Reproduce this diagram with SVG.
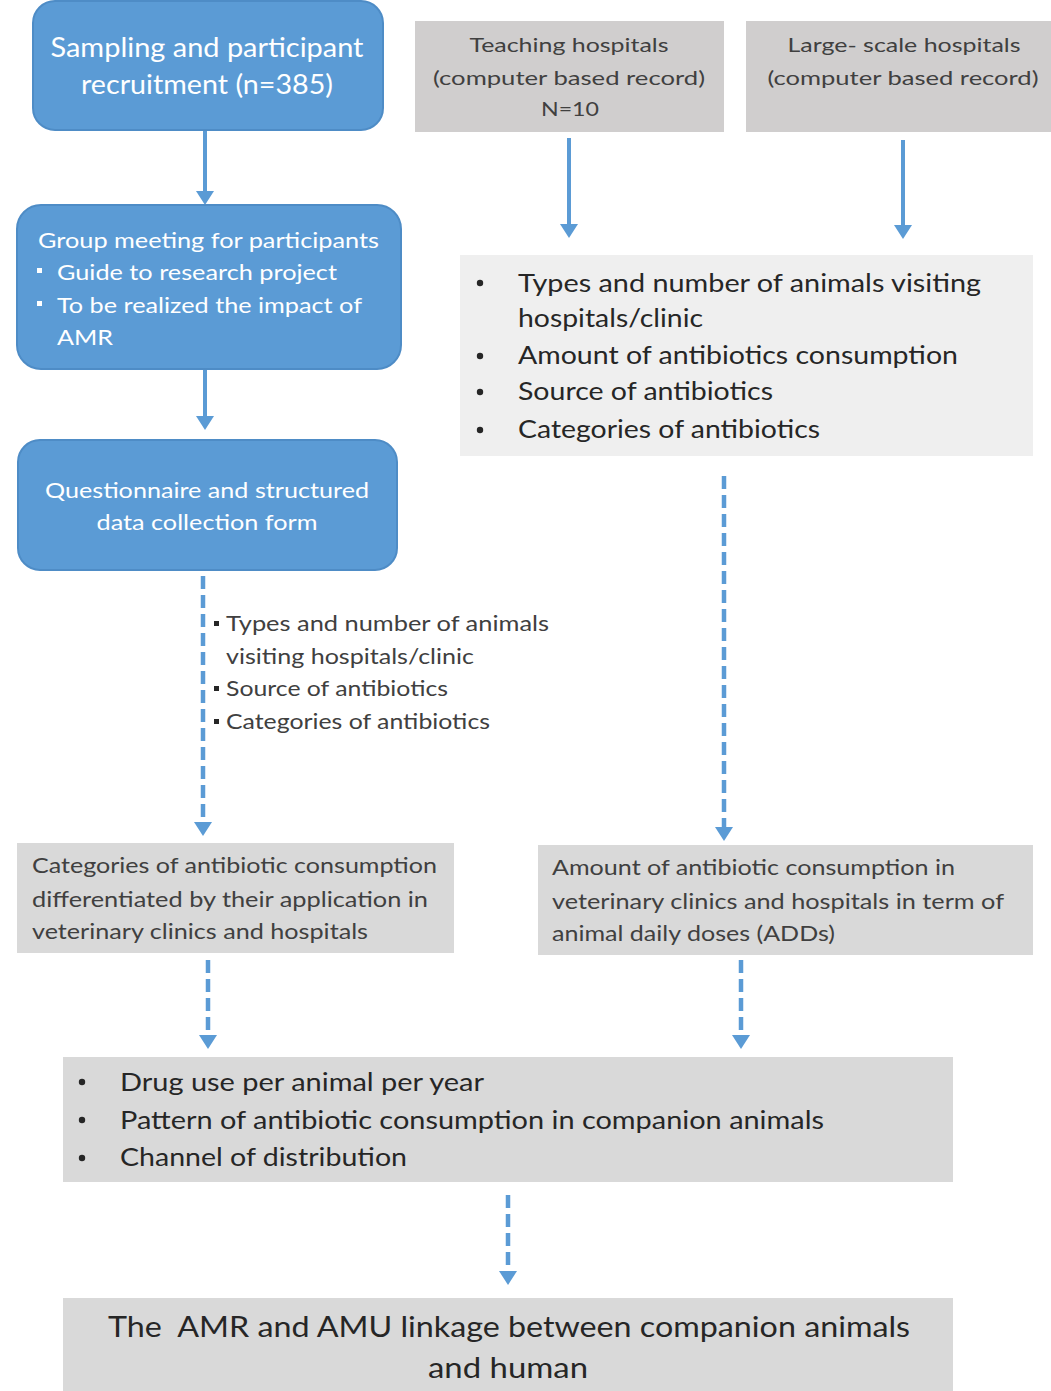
<svg xmlns="http://www.w3.org/2000/svg" width="1051" height="1391" viewBox="0 0 1051 1391">
<defs>
<marker id="ah" viewBox="0 0 14 18" refX="3" refY="9" markerWidth="14" markerHeight="18" markerUnits="userSpaceOnUse" orient="auto">
<path d="M0,0 L14,9 L0,18 z" fill="#5B9BD5"/>
</marker>
<style>
text{font-family:Lato,"Open Sans","Liberation Sans",sans-serif;}
.blue{fill:#5B9BD5;stroke:#4E8CC6;stroke-width:2;}
.g1{fill:#D0CECE;}
.g2{fill:#EFEFEF;}
.g3{fill:#D9D9D9;}
.wt{fill:#FFFFFF;}
.dk{fill:#404040;}
.bk{fill:#262626;}
.solid{stroke:#5B9BD5;stroke-width:4;fill:none;marker-end:url(#ah);}
.dash{stroke:#5B9BD5;stroke-width:4.5;fill:none;stroke-dasharray:13 6;marker-end:url(#ah);}
</style>
</defs>

<g id="connectors">
<line class="solid" x1="205" y1="131" x2="205" y2="194"/>
<line class="solid" x1="205" y1="370" x2="205" y2="419"/>
<line class="solid" x1="569" y1="138" x2="569" y2="227"/>
<line class="solid" x1="903" y1="140" x2="903" y2="228"/>
<line class="dash" x1="203" y1="576" x2="203" y2="825"/>
<line class="dash" x1="724" y1="476" x2="724" y2="830"/>
<line class="dash" x1="208" y1="960" x2="208" y2="1038"/>
<line class="dash" x1="741" y1="960" x2="741" y2="1038"/>
<line class="dash" x1="508" y1="1195" x2="508" y2="1274"/>
</g>

<g id="n-sampling">
<rect class="blue" x="33" y="1" width="350" height="129" rx="22"/>
<text class="wt" x="207" y="57" font-size="27" text-anchor="middle" textLength="313" lengthAdjust="spacingAndGlyphs">Sampling and participant</text>
<text class="wt" x="207" y="94" font-size="27" text-anchor="middle" textLength="252" lengthAdjust="spacingAndGlyphs">recruitment (n=385)</text>
</g>

<g id="n-group">
<rect class="blue" x="17" y="205" width="384" height="164" rx="24"/>
<text class="wt" x="38" y="248" font-size="22" textLength="341" lengthAdjust="spacingAndGlyphs">Group meeting for participants</text>
<rect class="wt" x="37" y="268" width="5" height="5"/>
<text class="wt" x="57" y="280" font-size="22" textLength="280" lengthAdjust="spacingAndGlyphs">Guide to research project</text>
<rect class="wt" x="37" y="301" width="5" height="5"/>
<text class="wt" x="57" y="313" font-size="22" textLength="305" lengthAdjust="spacingAndGlyphs">To be realized the impact of</text>
<text class="wt" x="57" y="345" font-size="22" textLength="56" lengthAdjust="spacingAndGlyphs">AMR</text>
</g>

<g id="n-questionnaire">
<rect class="blue" x="18" y="440" width="379" height="130" rx="22"/>
<text class="wt" x="207" y="498" font-size="22" text-anchor="middle" textLength="324" lengthAdjust="spacingAndGlyphs">Questionnaire and structured</text>
<text class="wt" x="207" y="530" font-size="22" text-anchor="middle" textLength="221" lengthAdjust="spacingAndGlyphs">data collection form</text>
</g>

<g id="n-side-list">
<rect class="bk" x="214" y="621" width="5" height="5"/>
<text class="dk" x="226" y="631" font-size="21" textLength="323" lengthAdjust="spacingAndGlyphs">Types and number of animals</text>
<text class="dk" x="226" y="664" font-size="21" textLength="248" lengthAdjust="spacingAndGlyphs">visiting hospitals/clinic</text>
<rect class="bk" x="214" y="686" width="5" height="5"/>
<text class="dk" x="226" y="696" font-size="21" textLength="222" lengthAdjust="spacingAndGlyphs">Source of antibiotics</text>
<rect class="bk" x="214" y="719" width="5" height="5"/>
<text class="dk" x="226" y="729" font-size="21" textLength="264" lengthAdjust="spacingAndGlyphs">Categories of antibiotics</text>
</g>

<g id="n-teaching">
<rect class="g1" x="415" y="21" width="309" height="111"/>
<text class="dk" x="569" y="52" font-size="20" text-anchor="middle" textLength="199" lengthAdjust="spacingAndGlyphs">Teaching hospitals</text>
<text class="dk" x="569" y="85" font-size="20" text-anchor="middle" textLength="272" lengthAdjust="spacingAndGlyphs">(computer based record)</text>
<text class="dk" x="570" y="116" font-size="20" text-anchor="middle" textLength="58" lengthAdjust="spacingAndGlyphs">N=10</text>
</g>

<g id="n-large">
<rect class="g1" x="746" y="21" width="305" height="111"/>
<text class="dk" x="904" y="52" font-size="20" text-anchor="middle" textLength="233" lengthAdjust="spacingAndGlyphs">Large- scale hospitals</text>
<text class="dk" x="903" y="85" font-size="20" text-anchor="middle" textLength="271" lengthAdjust="spacingAndGlyphs">(computer based record)</text>
</g>

<g id="n-records-list">
<rect class="g2" x="460" y="255" width="573" height="201"/>
<circle class="bk" cx="480" cy="283" r="3.2"/>
<text class="bk" x="518" y="292" font-size="25" textLength="463" lengthAdjust="spacingAndGlyphs">Types and number of animals visiting</text>
<text class="bk" x="518" y="327" font-size="25" textLength="185" lengthAdjust="spacingAndGlyphs">hospitals/clinic</text>
<circle class="bk" cx="480" cy="356" r="3.2"/>
<text class="bk" x="518" y="364" font-size="25" textLength="440" lengthAdjust="spacingAndGlyphs">Amount of antibiotics consumption</text>
<circle class="bk" cx="480" cy="392" r="3.2"/>
<text class="bk" x="518" y="400" font-size="25" textLength="255" lengthAdjust="spacingAndGlyphs">Source of antibiotics</text>
<circle class="bk" cx="480" cy="430" r="3.2"/>
<text class="bk" x="518" y="438" font-size="25" textLength="302" lengthAdjust="spacingAndGlyphs">Categories of antibiotics</text>
</g>

<g id="n-categories">
<rect class="g3" x="17" y="843" width="437" height="110"/>
<text class="dk" x="32" y="873" font-size="21" textLength="405" lengthAdjust="spacingAndGlyphs">Categories of antibiotic consumption</text>
<text class="dk" x="32" y="907" font-size="21" textLength="396" lengthAdjust="spacingAndGlyphs">differentiated by their application in</text>
<text class="dk" x="32" y="939" font-size="21" textLength="336" lengthAdjust="spacingAndGlyphs">veterinary clinics and hospitals</text>
</g>

<g id="n-amount">
<rect class="g3" x="538" y="845" width="495" height="110"/>
<text class="dk" x="552" y="875" font-size="21" textLength="403" lengthAdjust="spacingAndGlyphs">Amount of antibiotic consumption in</text>
<text class="dk" x="552" y="909" font-size="21" textLength="452" lengthAdjust="spacingAndGlyphs">veterinary clinics and hospitals in term of</text>
<text class="dk" x="552" y="941" font-size="21" textLength="283" lengthAdjust="spacingAndGlyphs">animal daily doses (ADDs)</text>
</g>

<g id="n-drug">
<rect class="g3" x="63" y="1057" width="890" height="125"/>
<circle class="bk" cx="82" cy="1082" r="3.2"/>
<text class="bk" x="120" y="1091" font-size="25" textLength="364" lengthAdjust="spacingAndGlyphs">Drug use per animal per year</text>
<circle class="bk" cx="82" cy="1120" r="3.2"/>
<text class="bk" x="120" y="1129" font-size="25" textLength="704" lengthAdjust="spacingAndGlyphs">Pattern of antibiotic consumption in companion animals</text>
<circle class="bk" cx="82" cy="1158" r="3.2"/>
<text class="bk" x="120" y="1166" font-size="25" textLength="287" lengthAdjust="spacingAndGlyphs">Channel of distribution</text>
</g>

<g id="n-linkage">
<rect class="g3" x="63" y="1298" width="890" height="93"/>
<text class="bk" x="509" y="1337" font-size="29" text-anchor="middle" textLength="802" lengthAdjust="spacingAndGlyphs" style="white-space:pre">The  AMR and AMU linkage between companion animals</text>
<text class="bk" x="508" y="1378" font-size="29" text-anchor="middle" textLength="160" lengthAdjust="spacingAndGlyphs">and human</text>
</g>
</svg>
